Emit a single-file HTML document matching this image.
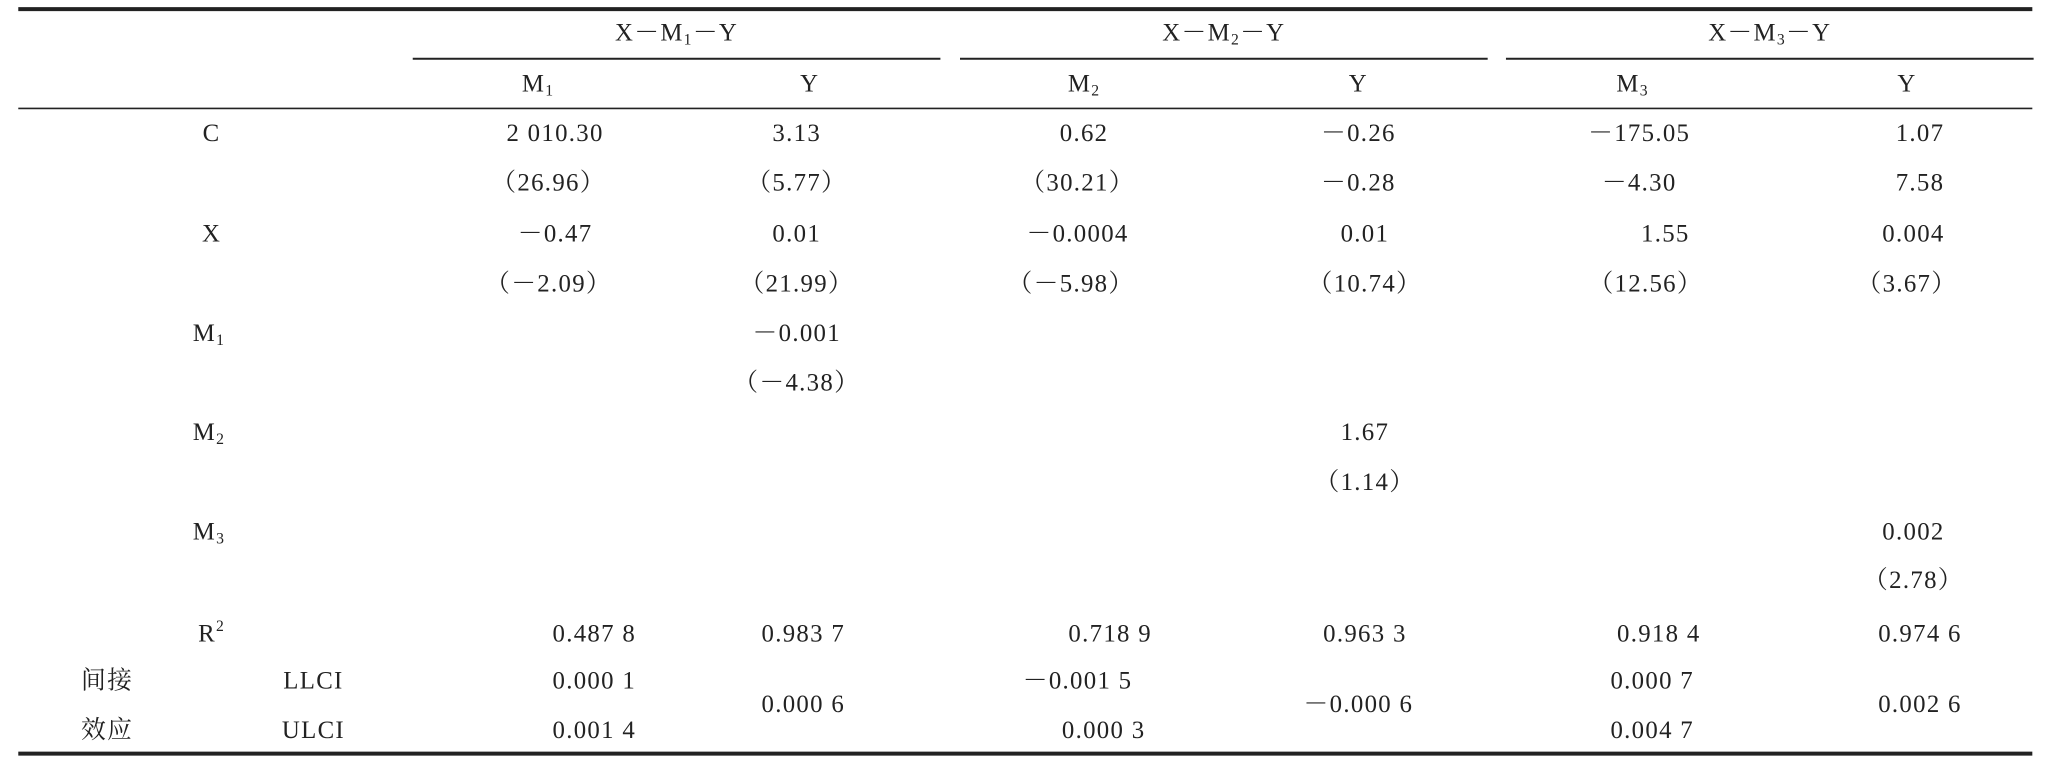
<!DOCTYPE html>
<html><head><meta charset="utf-8"><style>html,body{margin:0;padding:0;background:#fff}svg{display:block}</style></head>
<body>
<svg width="2048" height="768" viewBox="0 0 1568 588" preserveAspectRatio="none" xmlns="http://www.w3.org/2000/svg">
<g stroke="#222">
<line x1="14" y1="7" x2="1556" y2="7" stroke-width="3"/>
<line x1="316" y1="45" x2="720" y2="45" stroke-width="1.5"/>
<line x1="735" y1="45" x2="1139" y2="45" stroke-width="1.5"/>
<line x1="1153" y1="45" x2="1557" y2="45" stroke-width="1.5"/>
<line x1="14" y1="83" x2="1556" y2="83" stroke-width="1.2"/>
<line x1="14" y1="577" x2="1556" y2="577" stroke-width="3"/>
</g>
<g font-family="Liberation Serif, Noto Serif CJK SC, serif" font-size="19" fill="#222" text-anchor="middle" letter-spacing="1">
<text x="518" y="31">X－M<tspan font-size="12" dy="3">1</tspan><tspan dy="-3">－Y</tspan></text>
<text x="937" y="31">X－M<tspan font-size="12" dy="3">2</tspan><tspan dy="-3">－Y</tspan></text>
<text x="1355" y="31">X－M<tspan font-size="12" dy="3">3</tspan><tspan dy="-3">－Y</tspan></text>
<text x="412" y="70">M<tspan font-size="12" dy="3">1</tspan></text>
<text x="620" y="70">Y</text>
<text x="830" y="70">M<tspan font-size="12" dy="3">2</tspan></text>
<text x="1040" y="70">Y</text>
<text x="1250" y="70">M<tspan font-size="12" dy="3">3</tspan></text>
<text x="1460" y="70">Y</text>

<text x="162" y="108">C</text>
<text x="425" y="108">2 010.30</text><text x="610" y="108">3.13</text><text x="830" y="108">0.62</text><text x="1040" y="108">－0.26</text><text x="1255" y="108">－175.05</text><text x="1470" y="108">1.07</text>
<text x="420" y="146">（26.96）</text><text x="610" y="146">（5.77）</text><text x="825" y="146">（30.21）</text><text x="1040" y="146">－0.28</text><text x="1255" y="146">－4.30</text><text x="1470" y="146">7.58</text>
<text x="162" y="185">X</text>
<text x="425" y="185">－0.47</text><text x="610" y="185">0.01</text><text x="825" y="185">－0.0004</text><text x="1045" y="185">0.01</text><text x="1275" y="185">1.55</text><text x="1465" y="185">0.004</text>
<text x="420" y="223">（－2.09）</text><text x="610" y="223">（21.99）</text><text x="820" y="223">（－5.98）</text><text x="1045" y="223">（10.74）</text><text x="1260" y="223">（12.56）</text><text x="1460" y="223">（3.67）</text>
<text x="160" y="261">M<tspan font-size="12" dy="3">1</tspan></text>
<text x="610" y="261">－0.001</text>
<text x="610" y="299">（－4.38）</text>
<text x="160" y="337">M<tspan font-size="12" dy="3">2</tspan></text>
<text x="1045" y="337">1.67</text>
<text x="1045" y="375">（1.14）</text>
<text x="160" y="413">M<tspan font-size="12" dy="3">3</tspan></text>
<text x="1465" y="413">0.002</text>
<text x="1465" y="450">（2.78）</text>
<text x="162" y="491">R<tspan font-size="12" dy="-8">2</tspan></text>
<text x="455" y="491">0.487 8</text><text x="615" y="491">0.983 7</text><text x="850" y="491">0.718 9</text><text x="1045" y="491">0.963 3</text><text x="1270" y="491">0.918 4</text><text x="1470" y="491">0.974 6</text>
<text x="82" y="527">间接</text><text x="240" y="527">LLCI</text>
<text x="455" y="527">0.000 1</text><text x="825" y="527">－0.001 5</text><text x="1265" y="527">0.000 7</text>
<text x="615" y="545">0.000 6</text><text x="1040" y="545">－0.000 6</text><text x="1470" y="545">0.002 6</text>
<text x="82" y="565">效应</text><text x="240" y="565">ULCI</text>
<text x="455" y="565">0.001 4</text><text x="845" y="565">0.000 3</text><text x="1265" y="565">0.004 7</text>
</g>
</svg>
</body></html>
